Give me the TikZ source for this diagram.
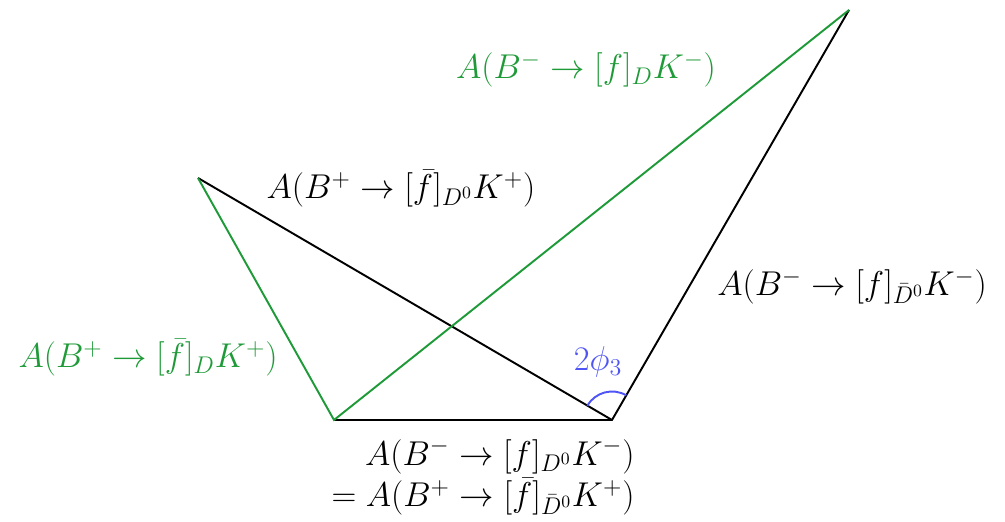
\documentclass[tikz,border=0pt]{standalone}
\usepackage{fix-cm}
\usepackage{amsmath,amssymb}
\usepackage{xcolor}
\usepackage{tikz}
\usetikzlibrary{calc}
\definecolor{grnc}{HTML}{1F9A38}
\definecolor{angc}{HTML}{4F55F5}
\tikzset{
  blk/.style={line width=1.1pt,black},
  grn/.style={line width=1.1pt,grnc},
  lab/.style={font=\fontsize{19.6}{23.5}\selectfont,inner sep=2pt}
}
\begin{document}
\begin{tikzpicture}
\useasboundingbox (0,0) rectangle (20.1,10.42);
\coordinate (L) at (6.68,2.02); \coordinate (R) at (12.24,2.02);
\coordinate (T) at (16.98,10.22); \coordinate (U) at (3.96,6.86);
\draw[blk] (L)--(R)--(T);
\draw[blk] (U)--(R);
\draw[grn] (U)--(L)--(T);
\draw[angc,line width=1.1pt] ($(R)+(60:0.57)$) arc (60:150:0.57);
\node[lab,angc] (phi) at (11.96,3.18) {$2\phi_3$};
\node[lab,grnc] (gtop) at (11.72,9.02) {$A(B^- \to [f]_D K^-)$};
\node[lab] (btop) at (8.02,6.64) {$A(B^+ \to [\bar f]_{D^0} K^+)$};
\node[lab] (bright) at (17.04,4.68) {$A(B^- \to [f]_{\bar D^0} K^-)$};
\node[lab,grnc] (gleft) at (2.96,3.26) {$A(B^+ \to [\bar f]_D K^+)$};
\node[lab,align=right,below] (base) at ($(L)!0.5!(R)+(0.2,-0.3)$)
  {$A(B^- \to [f]_{D^0} K^-)$\\$= A(B^+ \to [\bar f]_{\bar D^0} K^+)$};
\end{tikzpicture}
\end{document}
